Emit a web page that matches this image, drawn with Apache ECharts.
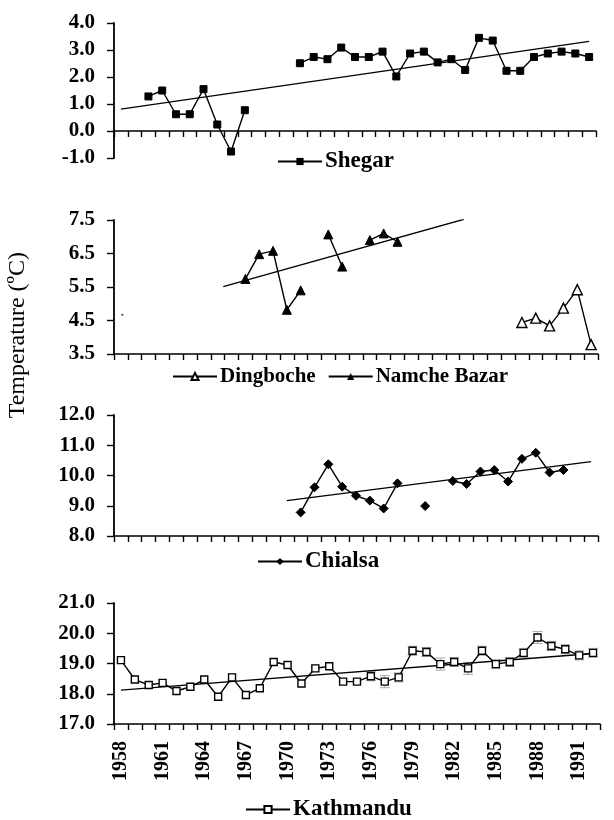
<!DOCTYPE html>
<html><head><meta charset="utf-8">
<script src="https://cdn.jsdelivr.net/npm/echarts@6/dist/echarts.min.js"></script>
<style>html,body{margin:0;padding:0;background:#fff}#c{width:614px;height:820px}</style>
</head><body><div id="c"></div>
<script>
const years = ['1958','1959','1960','1961','1962','1963','1964','1965','1966','1967','1968','1969','1970','1971','1972','1973','1974','1975','1976','1977','1978','1979','1980','1981','1982','1983','1984','1985','1986','1987','1988','1989','1990','1991','1992'];

const shegar = [null,null,1.28,1.50,0.62,0.62,1.55,0.24,-0.76,0.77,null,null,null,2.51,2.74,2.66,3.09,2.74,2.74,2.94,2.02,2.87,2.94,2.54,2.66,2.26,3.45,3.35,2.23,2.23,2.74,2.87,2.94,2.87,2.74];
const dingboche = [null,null,null,null,null,null,null,null,null,null,null,null,null,null,null,null,null,null,null,null,null,null,null,null,null,null,null,null,null,4.44,4.57,4.34,4.87,5.42,3.78];
const dingbocheDot = [[1958.1, 4.67]];
const namche = [null,null,null,null,null,null,null,null,null,5.74,6.48,6.58,4.82,5.40,null,7.07,6.11,null,6.90,7.10,6.85,null,null,null,null,null,null,null,null,null,null,null,null,null,null];
const chialsa = [null,null,null,null,null,null,null,null,null,null,null,null,null,8.78,9.61,10.37,9.63,9.33,9.17,8.91,9.74,null,8.99,null,9.82,9.72,10.13,10.18,9.80,10.55,10.75,10.10,10.18,null,null];
const kathmandu = [19.11,18.47,18.29,18.36,18.09,18.23,18.47,17.90,18.54,17.96,18.18,19.05,18.95,18.34,18.84,18.91,18.40,18.40,18.58,18.40,18.54,19.42,19.38,18.98,19.05,18.84,19.42,18.98,19.05,19.35,19.86,19.58,19.47,19.27,19.35];
const kathErr = [null,null,null,null,null,null,null,null,null,null,null,null,null,null,null,null,null,null,0.15,0.2,0.15,0.15,0.15,0.2,0.15,0.2,0.15,0.15,0.15,0.15,0.2,0.15,0.15,0.15,0.15];

const shegarTrend = [[1958, 0.81],[1992, 3.32]];
const namcheTrend = [[1965.4, 5.51],[1982.8, 7.52]];
const chialsaTrend = [[1970, 9.17],[1992, 10.46]];
const kathTrend = [[1958, 18.12],[1992, 19.33]];

const yTicks = [
  {min:-1, max:4, interval:1},
  {min:3.5, max:7.5, interval:1},
  {min:8, max:12, interval:1},
  {min:17, max:21, interval:1}
];

const FONT = 'Liberation Serif';
const grids = [
  {left:114, top:23, width:482, height:135},
  {left:114, top:220, width:484, height:134},
  {left:114, top:415, width:484, height:121},
  {left:114, top:603, width:486, height:121}
];

const chart = echarts.init(document.getElementById('c'));
const xAxes = [], yAxes = [];
grids.forEach((g, i) => {
  xAxes.push({
    type:'category', gridIndex:i, data:years, boundaryGap:true,
    axisLine:{lineStyle:{color:'#000', width:1.6}},
    axisTick:{show:true, interval:0, length:6, lineStyle:{color:'#000', width:1.4}},
    axisLabel:{show:i===3, interval:2, rotate:90, color:'#000', fontFamily:FONT, fontWeight:'bold', fontSize:20, margin:17},
    splitLine:{show:false}
  });
  yAxes.push({
    type:'value', gridIndex:i, min:yTicks[i].min, max:yTicks[i].max, interval:yTicks[i].interval,
    axisLine:{show:true, lineStyle:{color:'#000', width:1.8}},
    axisTick:{show:true, length:7, lineStyle:{color:'#000', width:1.4}},
    axisLabel:{color:'#000', fontFamily:FONT, fontWeight:'bold', fontSize:21, margin:19, formatter:v=>v.toFixed(1)},
    splitLine:{show:false}
  });
});
grids.forEach((g, i) => {
  xAxes.push({type:'value', gridIndex:i, min:1957.5, max:1992.5, show:false});
});

const lineBase = {type:'line', connectNulls:false, showSymbol:true, showAllSymbol:true, lineStyle:{color:'#000', width:1.4}, itemStyle:{color:'#000', borderColor:'#000'}, animation:false, z:3};
const trendBase = {type:'line', symbol:'none', lineStyle:{color:'#000', width:1.4}, animation:false, silent:true, z:2};

const series = [
  Object.assign({}, lineBase, {name:'Shegar', xAxisIndex:0, yAxisIndex:0, data:shegar, symbol:'rect', symbolSize:7}),
  Object.assign({}, trendBase, {name:'ShegarTrend', xAxisIndex:4, yAxisIndex:0, data:shegarTrend}),
  Object.assign({}, lineBase, {name:'Dingboche', xAxisIndex:1, yAxisIndex:1, data:dingboche, symbol:'triangle', symbolSize:10, itemStyle:{color:'#fff', borderColor:'#000', borderWidth:1.4}}),
  Object.assign({}, trendBase, {name:'DingbocheDot', xAxisIndex:5, yAxisIndex:1, type:'scatter', symbol:'circle', symbolSize:2, itemStyle:{color:'#000'}, data:dingbocheDot}),
  Object.assign({}, lineBase, {name:'Namche Bazar', xAxisIndex:1, yAxisIndex:1, data:namche, symbol:'triangle', symbolSize:9}),
  Object.assign({}, trendBase, {name:'NamcheTrend', xAxisIndex:5, yAxisIndex:1, data:namcheTrend}),
  Object.assign({}, lineBase, {name:'Chialsa', xAxisIndex:2, yAxisIndex:2, data:chialsa, symbol:'diamond', symbolSize:9}),
  Object.assign({}, trendBase, {name:'ChialsaTrend', xAxisIndex:6, yAxisIndex:2, data:chialsaTrend}),
  {
    type:'custom', name:'KathErr', xAxisIndex:3, yAxisIndex:3, silent:true, z:1, animation:false,
    data: kathmandu.map((v, i) => [i, v, kathErr[i]]),
    renderItem:(params, api) => {
      const e = api.value(2);
      if (e == null || isNaN(e)) return;
      const x = api.value(0), y = api.value(1);
      const hi = api.coord([x, y + e]), lo = api.coord([x, y - e]);
      const w = 5;
      return {type:'group', children:[
        {type:'line', shape:{x1:hi[0], y1:hi[1], x2:lo[0], y2:lo[1]}, style:{stroke:'#aaa', lineWidth:1}},
        {type:'line', shape:{x1:hi[0]-w, y1:hi[1], x2:hi[0]+w, y2:hi[1]}, style:{stroke:'#aaa', lineWidth:1}},
        {type:'line', shape:{x1:lo[0]-w, y1:lo[1], x2:lo[0]+w, y2:lo[1]}, style:{stroke:'#aaa', lineWidth:1}}
      ]};
    }
  },
  Object.assign({}, lineBase, {name:'Kathmandu', xAxisIndex:3, yAxisIndex:3, data:kathmandu, symbol:'rect', symbolSize:7, itemStyle:{color:'#fff', borderColor:'#000', borderWidth:1.4}}),
  Object.assign({}, trendBase, {name:'KathTrend', xAxisIndex:7, yAxisIndex:3, data:kathTrend})
];

const mkText = size => ({color:'#000', fontFamily:FONT, fontWeight:'bold', fontSize:size, padding:[0,0,0,-2]});
const legends = [
  {data:['Shegar'], left:277, top:150, textStyle:mkText(23)},
  {data:['Dingboche','Namche Bazar'], left:172, top:366, textStyle:mkText(21)},
  {data:['Chialsa'], left:257, top:550, textStyle:mkText(23)},
  {data:['Kathmandu'], left:245, top:798, textStyle:mkText(23)}
].map(l => Object.assign({itemWidth:44, itemHeight:9, itemGap:12, padding:0, selectedMode:false}, l));

chart.setOption({
  animation:false,
  grid:grids,
  xAxis:xAxes,
  yAxis:yAxes,
  legend:legends,
  series:series,
  graphic:[{type:'text', left:6, top:252, rotation:Math.PI/2, style:{text:'Temperature (ºC)', font:'24px "Liberation Serif"', fill:'#000'}}]
});
</script></body></html>
